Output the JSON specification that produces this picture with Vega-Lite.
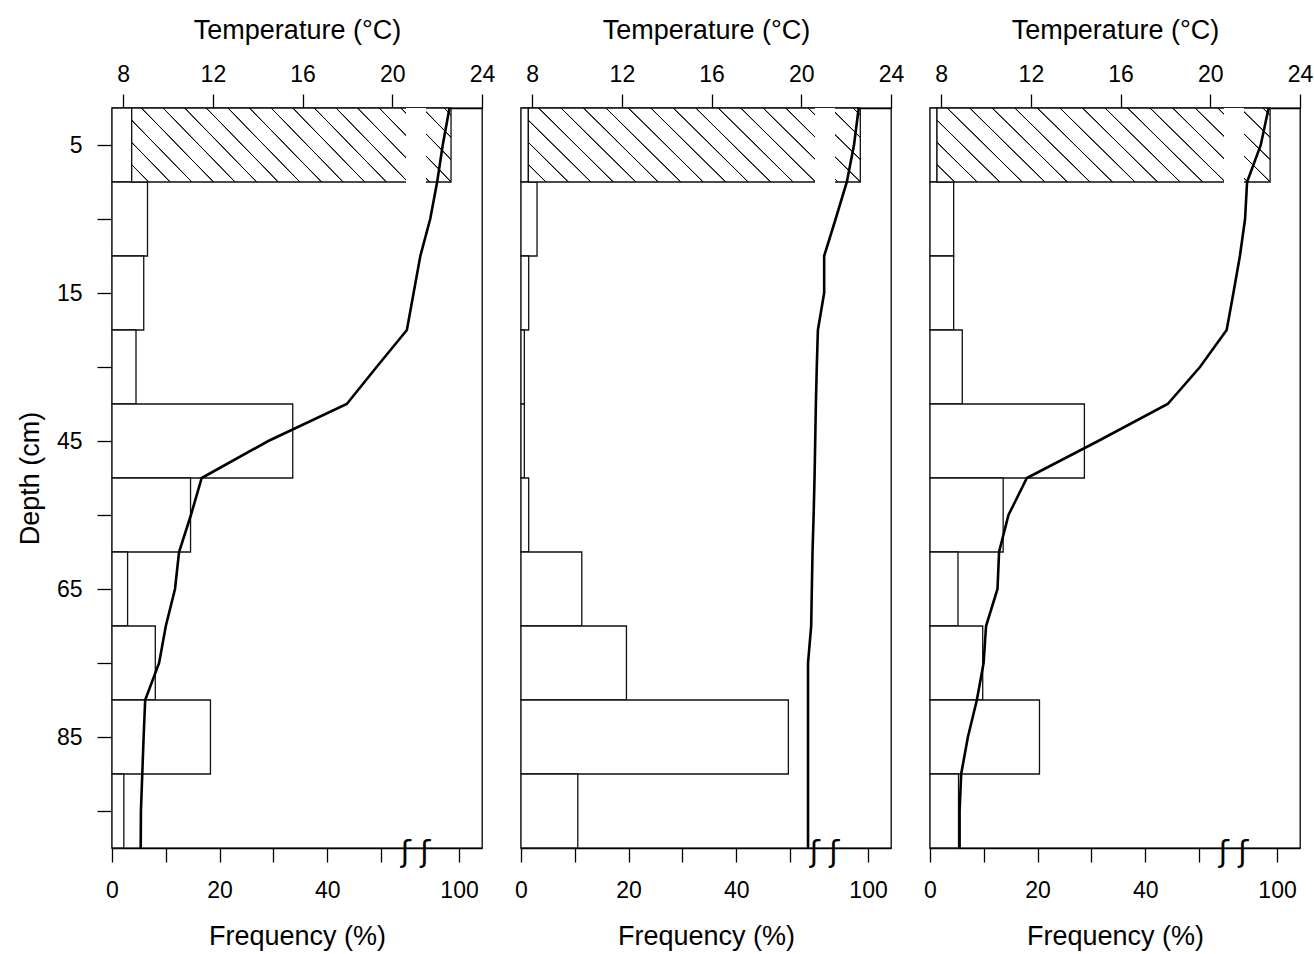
{
  "$schema": "https://vega.github.io/schema/vega-lite/v6.json",
  "padding": {"left": 15, "top": 15, "right": 10, "bottom": 10},
  "background": "white",
  "bounds": "flush",
  "spacing": 39,
  "config": {
    "font": "Liberation Sans",
    "view": {"stroke": "#000", "strokeWidth": 1.3},
    "axis": {
      "domainColor": "#000", "domainWidth": 1.3, "tickColor": "#000", "tickWidth": 1.3,
      "labelColor": "#000", "titleColor": "#000", "labelFont": "Liberation Sans", "titleFont": "Liberation Sans",
      "labelFontSize": 23, "titleFontSize": 27, "titleFontWeight": "normal", "grid": false, "zindex": 1,
      "tickSize": 14, "labelFlush": false, "labelOverlap": false
    }
  },
  "datasets": {
    "freq": [
      {"panel": 1, "top": 0, "bottom": 10, "freq": 3.66},
      {"panel": 1, "top": 10, "bottom": 20, "freq": 6.6},
      {"panel": 1, "top": 20, "bottom": 30, "freq": 5.9},
      {"panel": 1, "top": 30, "bottom": 40, "freq": 4.46},
      {"panel": 1, "top": 40, "bottom": 50, "freq": 33.6},
      {"panel": 1, "top": 50, "bottom": 60, "freq": 14.6},
      {"panel": 1, "top": 60, "bottom": 70, "freq": 2.9},
      {"panel": 1, "top": 70, "bottom": 80, "freq": 8.05},
      {"panel": 1, "top": 80, "bottom": 90, "freq": 18.3},
      {"panel": 1, "top": 90, "bottom": 100, "freq": 2.2},
      {"panel": 2, "top": 0, "bottom": 10, "freq": 1.37},
      {"panel": 2, "top": 10, "bottom": 20, "freq": 2.98},
      {"panel": 2, "top": 20, "bottom": 30, "freq": 1.43},
      {"panel": 2, "top": 30, "bottom": 40, "freq": 0.62},
      {"panel": 2, "top": 40, "bottom": 50, "freq": 0.62},
      {"panel": 2, "top": 50, "bottom": 60, "freq": 1.43},
      {"panel": 2, "top": 60, "bottom": 70, "freq": 11.3},
      {"panel": 2, "top": 70, "bottom": 80, "freq": 19.6},
      {"panel": 2, "top": 80, "bottom": 90, "freq": 49.7},
      {"panel": 2, "top": 90, "bottom": 100, "freq": 10.56},
      {"panel": 3, "top": 0, "bottom": 10, "freq": 1.3},
      {"panel": 3, "top": 10, "bottom": 20, "freq": 4.4},
      {"panel": 3, "top": 20, "bottom": 30, "freq": 4.4},
      {"panel": 3, "top": 30, "bottom": 40, "freq": 6.0},
      {"panel": 3, "top": 40, "bottom": 50, "freq": 28.7},
      {"panel": 3, "top": 50, "bottom": 60, "freq": 13.6},
      {"panel": 3, "top": 60, "bottom": 70, "freq": 5.2},
      {"panel": 3, "top": 70, "bottom": 80, "freq": 9.8},
      {"panel": 3, "top": 80, "bottom": 90, "freq": 20.35},
      {"panel": 3, "top": 90, "bottom": 100, "freq": 5.3}
    ],
    "hatch": [
      {"panel": 1, "top": 0, "bottom": 10, "start": 3.66, "end": 98.5},
      {"panel": 2, "top": 0, "bottom": 10, "start": 1.37, "end": 98.55},
      {"panel": 3, "top": 0, "bottom": 10, "start": 1.3, "end": 98.7}
    ],
    "temp": [
      {"panel": 1, "depth": 0, "temp": 22.55},
      {"panel": 1, "depth": 5, "temp": 22.25},
      {"panel": 1, "depth": 10, "temp": 22.0},
      {"panel": 1, "depth": 15, "temp": 21.69},
      {"panel": 1, "depth": 20, "temp": 21.25},
      {"panel": 1, "depth": 25, "temp": 20.95},
      {"panel": 1, "depth": 30, "temp": 20.65},
      {"panel": 1, "depth": 35, "temp": 19.3},
      {"panel": 1, "depth": 40, "temp": 17.97},
      {"panel": 1, "depth": 45, "temp": 14.47},
      {"panel": 1, "depth": 50, "temp": 11.5},
      {"panel": 1, "depth": 55, "temp": 11.02},
      {"panel": 1, "depth": 60, "temp": 10.49},
      {"panel": 1, "depth": 65, "temp": 10.31},
      {"panel": 1, "depth": 70, "temp": 9.9},
      {"panel": 1, "depth": 75, "temp": 9.6},
      {"panel": 1, "depth": 80, "temp": 8.98},
      {"panel": 1, "depth": 85, "temp": 8.91},
      {"panel": 1, "depth": 90, "temp": 8.85},
      {"panel": 1, "depth": 95, "temp": 8.79},
      {"panel": 1, "depth": 100, "temp": 8.78},
      {"panel": 2, "depth": 0, "temp": 22.56},
      {"panel": 2, "depth": 5, "temp": 22.35},
      {"panel": 2, "depth": 10, "temp": 22.03},
      {"panel": 2, "depth": 15, "temp": 21.53},
      {"panel": 2, "depth": 20, "temp": 21.02},
      {"panel": 2, "depth": 25, "temp": 21.02},
      {"panel": 2, "depth": 30, "temp": 20.74},
      {"panel": 2, "depth": 35, "temp": 20.69},
      {"panel": 2, "depth": 40, "temp": 20.65},
      {"panel": 2, "depth": 45, "temp": 20.62},
      {"panel": 2, "depth": 50, "temp": 20.59},
      {"panel": 2, "depth": 55, "temp": 20.55},
      {"panel": 2, "depth": 60, "temp": 20.5},
      {"panel": 2, "depth": 65, "temp": 20.47},
      {"panel": 2, "depth": 70, "temp": 20.44},
      {"panel": 2, "depth": 75, "temp": 20.3},
      {"panel": 2, "depth": 80, "temp": 20.3},
      {"panel": 2, "depth": 85, "temp": 20.3},
      {"panel": 2, "depth": 90, "temp": 20.3},
      {"panel": 2, "depth": 95, "temp": 20.3},
      {"panel": 2, "depth": 100, "temp": 20.3},
      {"panel": 3, "depth": 0, "temp": 22.6},
      {"panel": 3, "depth": 5, "temp": 22.25},
      {"panel": 3, "depth": 10, "temp": 21.64},
      {"panel": 3, "depth": 15, "temp": 21.55},
      {"panel": 3, "depth": 20, "temp": 21.32},
      {"panel": 3, "depth": 25, "temp": 21.03},
      {"panel": 3, "depth": 30, "temp": 20.73},
      {"panel": 3, "depth": 35, "temp": 19.54},
      {"panel": 3, "depth": 40, "temp": 18.1},
      {"panel": 3, "depth": 45, "temp": 15.0},
      {"panel": 3, "depth": 50, "temp": 11.82},
      {"panel": 3, "depth": 55, "temp": 11.0},
      {"panel": 3, "depth": 60, "temp": 10.58},
      {"panel": 3, "depth": 65, "temp": 10.51},
      {"panel": 3, "depth": 70, "temp": 10.0},
      {"panel": 3, "depth": 75, "temp": 9.89},
      {"panel": 3, "depth": 80, "temp": 9.59},
      {"panel": 3, "depth": 85, "temp": 9.19},
      {"panel": 3, "depth": 90, "temp": 8.89},
      {"panel": 3, "depth": 95, "temp": 8.82},
      {"panel": 3, "depth": 100, "temp": 8.82}
    ]
  },
  "hconcat": [
    {
      "width": 370, "height": 740,
      "layer": [
        {"layer": [
          {"data": {"name": "freq"}, "transform": [{"filter": "datum.panel == 1"}],
           "mark": {"type": "bar", "orient": "horizontal", "fill": "white", "stroke": "#111", "strokeWidth": 1.3},
           "encoding": {
             "x": {"field": "freq", "type": "quantitative", "stack": null,
               "scale": {"domain": [0, 54.65, 93.81, 104.3], "range": [0, 294, 314, 370], "nice": false, "zero": false},
               "axis": {"orient": "bottom", "values": [0, 10, 20, 30, 40, 50, 100], "labelExpr": "datum.value == 10 || datum.value == 30 || datum.value == 50 ? '' : datum.label", "title": "Frequency (%)", "labelPadding": 17, "titlePadding": 21}},
             "y": {"field": "top", "type": "quantitative",
               "scale": {"domain": [0, 100], "reverse": true, "nice": false, "zero": false, "padding": 0},
               "axis": {"values": [5, 15, 25, 35, 45, 55, 65, 75, 85, 95], "labelExpr": "datum.value == 5 ? '5' : datum.value == 25 ? '15' : datum.value == 45 ? '45' : datum.value == 65 ? '65' : datum.value == 85 ? '85' : ''", "title": "Depth (cm)", "tickSize": 15, "labelPadding": 15, "titlePadding": 12}},
             "y2": {"field": "bottom"}
           }},
          {"data": {"name": "hatch"}, "transform": [{"filter": "datum.panel == 1"}],
           "mark": {"type": "rect", "stroke": "#111", "strokeWidth": 1.3,
             "fill": {"gradient": "linear", "x1": 0, "y1": 1, "x2": 1.1663, "y2": 0.7369, "stops": [
               {"offset": 0, "color": "#fff"},
               {"offset": 0.04078, "color": "#fff"}, {"offset": 0.04238, "color": "#000"}, {"offset": 0.04418, "color": "#000"}, {"offset": 0.04578, "color": "#fff"},
               {"offset": 0.09601, "color": "#fff"}, {"offset": 0.09761, "color": "#000"}, {"offset": 0.09941, "color": "#000"}, {"offset": 0.10101, "color": "#fff"},
               {"offset": 0.15123, "color": "#fff"}, {"offset": 0.15283, "color": "#000"}, {"offset": 0.15463, "color": "#000"}, {"offset": 0.15623, "color": "#fff"},
               {"offset": 0.20646, "color": "#fff"}, {"offset": 0.20806, "color": "#000"}, {"offset": 0.20986, "color": "#000"}, {"offset": 0.21146, "color": "#fff"},
               {"offset": 0.26168, "color": "#fff"}, {"offset": 0.26328, "color": "#000"}, {"offset": 0.26508, "color": "#000"}, {"offset": 0.26668, "color": "#fff"},
               {"offset": 0.31690, "color": "#fff"}, {"offset": 0.31850, "color": "#000"}, {"offset": 0.32030, "color": "#000"}, {"offset": 0.32190, "color": "#fff"},
               {"offset": 0.37213, "color": "#fff"}, {"offset": 0.37373, "color": "#000"}, {"offset": 0.37553, "color": "#000"}, {"offset": 0.37713, "color": "#fff"},
               {"offset": 0.42735, "color": "#fff"}, {"offset": 0.42895, "color": "#000"}, {"offset": 0.43075, "color": "#000"}, {"offset": 0.43235, "color": "#fff"},
               {"offset": 0.48257, "color": "#fff"}, {"offset": 0.48417, "color": "#000"}, {"offset": 0.48597, "color": "#000"}, {"offset": 0.48757, "color": "#fff"},
               {"offset": 0.53780, "color": "#fff"}, {"offset": 0.53940, "color": "#000"}, {"offset": 0.54120, "color": "#000"}, {"offset": 0.54280, "color": "#fff"},
               {"offset": 0.59302, "color": "#fff"}, {"offset": 0.59462, "color": "#000"}, {"offset": 0.59642, "color": "#000"}, {"offset": 0.59802, "color": "#fff"},
               {"offset": 0.64825, "color": "#fff"}, {"offset": 0.64985, "color": "#000"}, {"offset": 0.65165, "color": "#000"}, {"offset": 0.65325, "color": "#fff"},
               {"offset": 0.70347, "color": "#fff"}, {"offset": 0.70507, "color": "#000"}, {"offset": 0.70687, "color": "#000"}, {"offset": 0.70847, "color": "#fff"},
               {"offset": 0.75869, "color": "#fff"}, {"offset": 0.76029, "color": "#000"}, {"offset": 0.76209, "color": "#000"}, {"offset": 0.76369, "color": "#fff"},
               {"offset": 0.81392, "color": "#fff"}, {"offset": 0.81552, "color": "#000"}, {"offset": 0.81732, "color": "#000"}, {"offset": 0.81892, "color": "#fff"},
               {"offset": 0.86914, "color": "#fff"}, {"offset": 0.87074, "color": "#000"}, {"offset": 0.87254, "color": "#000"}, {"offset": 0.87414, "color": "#fff"},
               {"offset": 0.92437, "color": "#fff"}, {"offset": 0.92597, "color": "#000"}, {"offset": 0.92777, "color": "#000"}, {"offset": 0.92937, "color": "#fff"},
               {"offset": 0.97959, "color": "#fff"}, {"offset": 0.98119, "color": "#000"}, {"offset": 0.98299, "color": "#000"}, {"offset": 0.98459, "color": "#fff"},
               {"offset": 1, "color": "#fff"}]}},
           "encoding": {"x": {"field": "start", "type": "quantitative"}, "x2": {"field": "end"}, "y": {"field": "top", "type": "quantitative"}, "y2": {"field": "bottom"}}},
          {"data": {"values": [{}]},
           "mark": {"type": "rect", "fill": "white", "strokeWidth": 0},
           "encoding": {"x": {"datum": 54.65, "type": "quantitative"}, "x2": {"datum": 93.81}, "y": {"datum": 0, "type": "quantitative"}, "y2": {"datum": 10.12}}},
          {"data": {"values": [{}]},
           "mark": {"type": "text", "text": "ʃ ʃ", "font": "DejaVu Sans", "fontSize": 30, "baseline": "middle", "align": "center", "dy": 5, "color": "#000"},
           "encoding": {"x": {"datum": 73.25, "type": "quantitative"}, "y": {"datum": 100, "type": "quantitative"}}}
        ]},
        {"data": {"name": "temp"}, "transform": [{"filter": "datum.panel == 1"}],
         "mark": {"type": "line", "color": "#000", "strokeWidth": 2.6},
         "encoding": {
           "x": {"field": "temp", "type": "quantitative", "scale": {"domain": [7.5, 24], "nice": false, "zero": false},
             "axis": {"orient": "top", "values": [8, 12, 16, 20, 24], "title": "Temperature (°C)", "labelPadding": 8, "titlePadding": 19}},
           "y": {"field": "depth", "type": "quantitative"},
           "order": {"field": "depth", "type": "quantitative"}
         }}
      ],
      "resolve": {"scale": {"x": "independent"}}
    },
    {
      "width": 370, "height": 740,
      "layer": [
        {"layer": [
          {"data": {"name": "freq"}, "transform": [{"filter": "datum.panel == 2"}],
           "mark": {"type": "bar", "orient": "horizontal", "fill": "white", "stroke": "#111", "strokeWidth": 1.3},
           "encoding": {
             "x": {"field": "freq", "type": "quantitative", "stack": null,
               "scale": {"domain": [0, 54.65, 93.81, 104.3], "range": [0, 294, 314, 370], "nice": false, "zero": false},
               "axis": {"orient": "bottom", "values": [0, 10, 20, 30, 40, 50, 100], "labelExpr": "datum.value == 10 || datum.value == 30 || datum.value == 50 ? '' : datum.label", "title": "Frequency (%)", "labelPadding": 17, "titlePadding": 21}},
             "y": {"field": "top", "type": "quantitative",
               "scale": {"domain": [0, 100], "reverse": true, "nice": false, "zero": false, "padding": 0}, "axis": null},
             "y2": {"field": "bottom"}
           }},
          {"data": {"name": "hatch"}, "transform": [{"filter": "datum.panel == 2"}],
           "mark": {"type": "rect", "stroke": "#111", "strokeWidth": 1.3,
             "fill": {"gradient": "linear", "x1": 0, "y1": 1, "x2": 1.1663, "y2": 0.7369, "stops": [
               {"offset": 0, "color": "#fff"},
               {"offset": 0.04078, "color": "#fff"}, {"offset": 0.04238, "color": "#000"}, {"offset": 0.04418, "color": "#000"}, {"offset": 0.04578, "color": "#fff"},
               {"offset": 0.09601, "color": "#fff"}, {"offset": 0.09761, "color": "#000"}, {"offset": 0.09941, "color": "#000"}, {"offset": 0.10101, "color": "#fff"},
               {"offset": 0.15123, "color": "#fff"}, {"offset": 0.15283, "color": "#000"}, {"offset": 0.15463, "color": "#000"}, {"offset": 0.15623, "color": "#fff"},
               {"offset": 0.20646, "color": "#fff"}, {"offset": 0.20806, "color": "#000"}, {"offset": 0.20986, "color": "#000"}, {"offset": 0.21146, "color": "#fff"},
               {"offset": 0.26168, "color": "#fff"}, {"offset": 0.26328, "color": "#000"}, {"offset": 0.26508, "color": "#000"}, {"offset": 0.26668, "color": "#fff"},
               {"offset": 0.31690, "color": "#fff"}, {"offset": 0.31850, "color": "#000"}, {"offset": 0.32030, "color": "#000"}, {"offset": 0.32190, "color": "#fff"},
               {"offset": 0.37213, "color": "#fff"}, {"offset": 0.37373, "color": "#000"}, {"offset": 0.37553, "color": "#000"}, {"offset": 0.37713, "color": "#fff"},
               {"offset": 0.42735, "color": "#fff"}, {"offset": 0.42895, "color": "#000"}, {"offset": 0.43075, "color": "#000"}, {"offset": 0.43235, "color": "#fff"},
               {"offset": 0.48257, "color": "#fff"}, {"offset": 0.48417, "color": "#000"}, {"offset": 0.48597, "color": "#000"}, {"offset": 0.48757, "color": "#fff"},
               {"offset": 0.53780, "color": "#fff"}, {"offset": 0.53940, "color": "#000"}, {"offset": 0.54120, "color": "#000"}, {"offset": 0.54280, "color": "#fff"},
               {"offset": 0.59302, "color": "#fff"}, {"offset": 0.59462, "color": "#000"}, {"offset": 0.59642, "color": "#000"}, {"offset": 0.59802, "color": "#fff"},
               {"offset": 0.64825, "color": "#fff"}, {"offset": 0.64985, "color": "#000"}, {"offset": 0.65165, "color": "#000"}, {"offset": 0.65325, "color": "#fff"},
               {"offset": 0.70347, "color": "#fff"}, {"offset": 0.70507, "color": "#000"}, {"offset": 0.70687, "color": "#000"}, {"offset": 0.70847, "color": "#fff"},
               {"offset": 0.75869, "color": "#fff"}, {"offset": 0.76029, "color": "#000"}, {"offset": 0.76209, "color": "#000"}, {"offset": 0.76369, "color": "#fff"},
               {"offset": 0.81392, "color": "#fff"}, {"offset": 0.81552, "color": "#000"}, {"offset": 0.81732, "color": "#000"}, {"offset": 0.81892, "color": "#fff"},
               {"offset": 0.86914, "color": "#fff"}, {"offset": 0.87074, "color": "#000"}, {"offset": 0.87254, "color": "#000"}, {"offset": 0.87414, "color": "#fff"},
               {"offset": 0.92437, "color": "#fff"}, {"offset": 0.92597, "color": "#000"}, {"offset": 0.92777, "color": "#000"}, {"offset": 0.92937, "color": "#fff"},
               {"offset": 0.97959, "color": "#fff"}, {"offset": 0.98119, "color": "#000"}, {"offset": 0.98299, "color": "#000"}, {"offset": 0.98459, "color": "#fff"},
               {"offset": 1, "color": "#fff"}]}},
           "encoding": {"x": {"field": "start", "type": "quantitative"}, "x2": {"field": "end"}, "y": {"field": "top", "type": "quantitative"}, "y2": {"field": "bottom"}}},
          {"data": {"values": [{}]},
           "mark": {"type": "rect", "fill": "white", "strokeWidth": 0},
           "encoding": {"x": {"datum": 54.65, "type": "quantitative"}, "x2": {"datum": 93.81}, "y": {"datum": 0, "type": "quantitative"}, "y2": {"datum": 10.12}}},
          {"data": {"values": [{}]},
           "mark": {"type": "text", "text": "ʃ ʃ", "font": "DejaVu Sans", "fontSize": 30, "baseline": "middle", "align": "center", "dy": 5, "color": "#000"},
           "encoding": {"x": {"datum": 73.25, "type": "quantitative"}, "y": {"datum": 100, "type": "quantitative"}}}
        ]},
        {"data": {"name": "temp"}, "transform": [{"filter": "datum.panel == 2"}],
         "mark": {"type": "line", "color": "#000", "strokeWidth": 2.6},
         "encoding": {
           "x": {"field": "temp", "type": "quantitative", "scale": {"domain": [7.5, 24], "nice": false, "zero": false},
             "axis": {"orient": "top", "values": [8, 12, 16, 20, 24], "title": "Temperature (°C)", "labelPadding": 8, "titlePadding": 19}},
           "y": {"field": "depth", "type": "quantitative"},
           "order": {"field": "depth", "type": "quantitative"}
         }}
      ],
      "resolve": {"scale": {"x": "independent"}}
    },
    {
      "width": 370, "height": 740,
      "layer": [
        {"layer": [
          {"data": {"name": "freq"}, "transform": [{"filter": "datum.panel == 3"}],
           "mark": {"type": "bar", "orient": "horizontal", "fill": "white", "stroke": "#111", "strokeWidth": 1.3},
           "encoding": {
             "x": {"field": "freq", "type": "quantitative", "stack": null,
               "scale": {"domain": [0, 54.65, 93.81, 104.3], "range": [0, 294, 314, 370], "nice": false, "zero": false},
               "axis": {"orient": "bottom", "values": [0, 10, 20, 30, 40, 50, 100], "labelExpr": "datum.value == 10 || datum.value == 30 || datum.value == 50 ? '' : datum.label", "title": "Frequency (%)", "labelPadding": 17, "titlePadding": 21}},
             "y": {"field": "top", "type": "quantitative",
               "scale": {"domain": [0, 100], "reverse": true, "nice": false, "zero": false, "padding": 0}, "axis": null},
             "y2": {"field": "bottom"}
           }},
          {"data": {"name": "hatch"}, "transform": [{"filter": "datum.panel == 3"}],
           "mark": {"type": "rect", "stroke": "#111", "strokeWidth": 1.3,
             "fill": {"gradient": "linear", "x1": 0, "y1": 1, "x2": 1.1663, "y2": 0.7369, "stops": [
               {"offset": 0, "color": "#fff"},
               {"offset": 0.04078, "color": "#fff"}, {"offset": 0.04238, "color": "#000"}, {"offset": 0.04418, "color": "#000"}, {"offset": 0.04578, "color": "#fff"},
               {"offset": 0.09601, "color": "#fff"}, {"offset": 0.09761, "color": "#000"}, {"offset": 0.09941, "color": "#000"}, {"offset": 0.10101, "color": "#fff"},
               {"offset": 0.15123, "color": "#fff"}, {"offset": 0.15283, "color": "#000"}, {"offset": 0.15463, "color": "#000"}, {"offset": 0.15623, "color": "#fff"},
               {"offset": 0.20646, "color": "#fff"}, {"offset": 0.20806, "color": "#000"}, {"offset": 0.20986, "color": "#000"}, {"offset": 0.21146, "color": "#fff"},
               {"offset": 0.26168, "color": "#fff"}, {"offset": 0.26328, "color": "#000"}, {"offset": 0.26508, "color": "#000"}, {"offset": 0.26668, "color": "#fff"},
               {"offset": 0.31690, "color": "#fff"}, {"offset": 0.31850, "color": "#000"}, {"offset": 0.32030, "color": "#000"}, {"offset": 0.32190, "color": "#fff"},
               {"offset": 0.37213, "color": "#fff"}, {"offset": 0.37373, "color": "#000"}, {"offset": 0.37553, "color": "#000"}, {"offset": 0.37713, "color": "#fff"},
               {"offset": 0.42735, "color": "#fff"}, {"offset": 0.42895, "color": "#000"}, {"offset": 0.43075, "color": "#000"}, {"offset": 0.43235, "color": "#fff"},
               {"offset": 0.48257, "color": "#fff"}, {"offset": 0.48417, "color": "#000"}, {"offset": 0.48597, "color": "#000"}, {"offset": 0.48757, "color": "#fff"},
               {"offset": 0.53780, "color": "#fff"}, {"offset": 0.53940, "color": "#000"}, {"offset": 0.54120, "color": "#000"}, {"offset": 0.54280, "color": "#fff"},
               {"offset": 0.59302, "color": "#fff"}, {"offset": 0.59462, "color": "#000"}, {"offset": 0.59642, "color": "#000"}, {"offset": 0.59802, "color": "#fff"},
               {"offset": 0.64825, "color": "#fff"}, {"offset": 0.64985, "color": "#000"}, {"offset": 0.65165, "color": "#000"}, {"offset": 0.65325, "color": "#fff"},
               {"offset": 0.70347, "color": "#fff"}, {"offset": 0.70507, "color": "#000"}, {"offset": 0.70687, "color": "#000"}, {"offset": 0.70847, "color": "#fff"},
               {"offset": 0.75869, "color": "#fff"}, {"offset": 0.76029, "color": "#000"}, {"offset": 0.76209, "color": "#000"}, {"offset": 0.76369, "color": "#fff"},
               {"offset": 0.81392, "color": "#fff"}, {"offset": 0.81552, "color": "#000"}, {"offset": 0.81732, "color": "#000"}, {"offset": 0.81892, "color": "#fff"},
               {"offset": 0.86914, "color": "#fff"}, {"offset": 0.87074, "color": "#000"}, {"offset": 0.87254, "color": "#000"}, {"offset": 0.87414, "color": "#fff"},
               {"offset": 0.92437, "color": "#fff"}, {"offset": 0.92597, "color": "#000"}, {"offset": 0.92777, "color": "#000"}, {"offset": 0.92937, "color": "#fff"},
               {"offset": 0.97959, "color": "#fff"}, {"offset": 0.98119, "color": "#000"}, {"offset": 0.98299, "color": "#000"}, {"offset": 0.98459, "color": "#fff"},
               {"offset": 1, "color": "#fff"}]}},
           "encoding": {"x": {"field": "start", "type": "quantitative"}, "x2": {"field": "end"}, "y": {"field": "top", "type": "quantitative"}, "y2": {"field": "bottom"}}},
          {"data": {"values": [{}]},
           "mark": {"type": "rect", "fill": "white", "strokeWidth": 0},
           "encoding": {"x": {"datum": 54.65, "type": "quantitative"}, "x2": {"datum": 93.81}, "y": {"datum": 0, "type": "quantitative"}, "y2": {"datum": 10.12}}},
          {"data": {"values": [{}]},
           "mark": {"type": "text", "text": "ʃ ʃ", "font": "DejaVu Sans", "fontSize": 30, "baseline": "middle", "align": "center", "dy": 5, "color": "#000"},
           "encoding": {"x": {"datum": 73.25, "type": "quantitative"}, "y": {"datum": 100, "type": "quantitative"}}}
        ]},
        {"data": {"name": "temp"}, "transform": [{"filter": "datum.panel == 3"}],
         "mark": {"type": "line", "color": "#000", "strokeWidth": 2.6},
         "encoding": {
           "x": {"field": "temp", "type": "quantitative", "scale": {"domain": [7.5, 24], "nice": false, "zero": false},
             "axis": {"orient": "top", "values": [8, 12, 16, 20, 24], "title": "Temperature (°C)", "labelPadding": 8, "titlePadding": 19}},
           "y": {"field": "depth", "type": "quantitative"},
           "order": {"field": "depth", "type": "quantitative"}
         }}
      ],
      "resolve": {"scale": {"x": "independent"}}
    }
  ]
}
